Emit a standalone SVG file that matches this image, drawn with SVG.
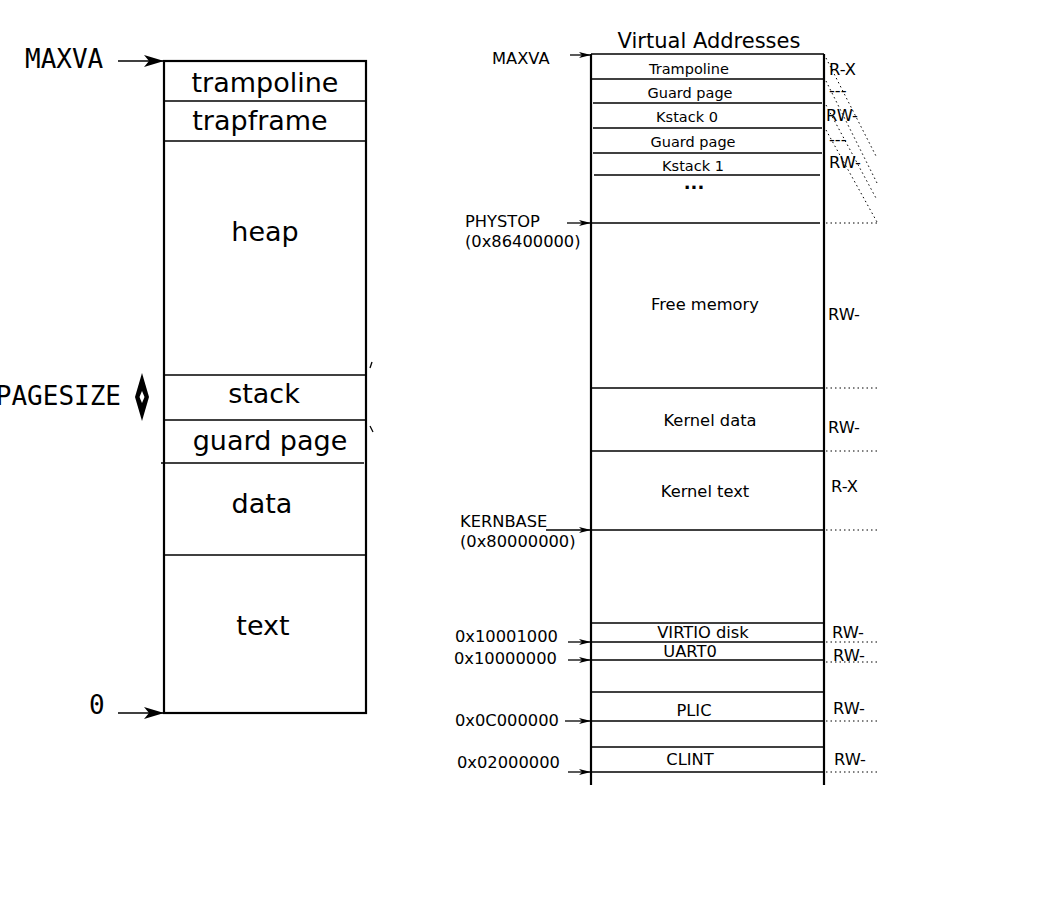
<svg xmlns="http://www.w3.org/2000/svg" width="1042" height="910" viewBox="0 0 1042 910">
<style>
.b{fill:none;stroke:#000;stroke-width:2.2}
.l{stroke:#000;stroke-width:1.3;fill:none}
.d{stroke:#000;stroke-width:1;stroke-dasharray:1.5 3;fill:none}
.t1{font-family:"DejaVu Sans",sans-serif;font-size:27px;text-anchor:middle}
.m{font-family:"DejaVu Sans Mono",monospace;font-size:26px}
.t2{font-family:"DejaVu Sans",sans-serif;font-size:16.3px}
.t3{font-family:"DejaVu Sans",sans-serif;font-size:14.5px;text-anchor:middle}
.c{text-anchor:middle}
</style>
<defs>
<marker id="ab" viewBox="0 0 20 12" refX="20" refY="6" markerWidth="20" markerHeight="12" markerUnits="userSpaceOnUse" orient="auto"><path d="M0,0 L20,6 L0,12 L5,6 Z" fill="#000"/></marker>
<marker id="as" viewBox="0 0 12 6" refX="12" refY="3" markerWidth="12" markerHeight="6" markerUnits="userSpaceOnUse" orient="auto"><path d="M0,0 L12,3 L0,6 L3,3 Z" fill="#000"/></marker>
</defs>
<rect width="1042" height="910" fill="#fff"/>

<g id="user-space">
<rect class="b" x="164" y="61" width="202" height="652"/>
<line class="l" x1="164" y1="101" x2="366" y2="101"/>
<line class="l" x1="164" y1="141" x2="366" y2="141"/>
<line class="l" x1="164" y1="375" x2="366" y2="375"/>
<line class="l" x1="164" y1="420" x2="366" y2="420"/>
<line class="l" x1="161" y1="463" x2="364" y2="463"/>
<line class="l" x1="164" y1="555" x2="366" y2="555"/>
<text class="t1" x="265" y="92">trampoline</text>
<text class="t1" x="260" y="130">trapframe</text>
<text class="t1" x="265" y="241">heap</text>
<text class="t1" x="264" y="403">stack</text>
<text class="t1" x="270" y="450">guard page</text>
<text class="t1" x="262" y="513">data</text>
<text class="t1" x="263" y="635">text</text>
<text class="m" x="25" y="68">MAXVA</text>
<text class="m" x="121" y="405" text-anchor="end">PAGESIZE</text>
<text class="m" x="89" y="714">0</text>
<line class="l" x1="370" y1="368" x2="372" y2="362" stroke-width="0.8"/>
<line class="l" x1="370" y1="426" x2="373" y2="432" stroke-width="0.8"/>
</g>

<g id="connectors">
<line class="l" x1="118" y1="61" x2="164" y2="61" marker-end="url(#ab)"/>
<line class="l" x1="118" y1="713" x2="164" y2="713" marker-end="url(#ab)"/>
<path d="M142,373 L149,397 L142,421 L135,397 Z" fill="#000"/>
<path d="M142,391 L144.5,397 L142,403 L139.5,397 Z" fill="#fff"/>
<line class="l" x1="570" y1="55" x2="591" y2="55" marker-end="url(#as)"/>
<line class="l" x1="567" y1="223" x2="591" y2="223" marker-end="url(#as)"/>
<line class="l" x1="546" y1="530" x2="591" y2="530" marker-end="url(#as)"/>
<line class="l" x1="568" y1="642" x2="591" y2="642" marker-end="url(#as)"/>
<line class="l" x1="568" y1="660" x2="591" y2="660" marker-end="url(#as)"/>
<line class="l" x1="565" y1="721" x2="591" y2="721" marker-end="url(#as)"/>
<line class="l" x1="568" y1="772" x2="591" y2="772" marker-end="url(#as)"/>
</g>

<g id="kernel-space">
<text class="t2 c" x="709" y="48" style="font-size:21px">Virtual Addresses</text>
<line class="b" x1="591" y1="54" x2="591" y2="785"/>
<line class="b" x1="824" y1="54" x2="824" y2="785"/>
<line class="l" x1="591" y1="54" x2="824" y2="54"/>
<line class="l" x1="591" y1="79" x2="824" y2="79"/>
<line class="l" x1="593" y1="103" x2="822" y2="103"/>
<line class="l" x1="593" y1="128" x2="822" y2="128"/>
<line class="l" x1="593" y1="153" x2="822" y2="153"/>
<line class="l" x1="594" y1="175" x2="820" y2="175"/>
<line class="l" x1="591" y1="223" x2="820" y2="223"/>
<line class="l" x1="591" y1="388" x2="824" y2="388"/>
<line class="l" x1="591" y1="451" x2="824" y2="451"/>
<line class="l" x1="591" y1="530" x2="824" y2="530"/>
<line class="l" x1="591" y1="623" x2="824" y2="623"/>
<line class="l" x1="591" y1="642" x2="824" y2="642"/>
<line class="l" x1="591" y1="660" x2="824" y2="660"/>
<line class="l" x1="591" y1="692" x2="824" y2="692"/>
<line class="l" x1="591" y1="721" x2="824" y2="721"/>
<line class="l" x1="591" y1="747" x2="824" y2="747"/>
<line class="l" x1="591" y1="772" x2="824" y2="772"/>

<text class="t3" x="689" y="74">Trampoline</text>
<text class="t3" x="690" y="98">Guard page</text>
<text class="t3" x="687" y="122">Kstack 0</text>
<text class="t3" x="693" y="147">Guard page</text>
<text class="t3" x="693" y="171">Kstack 1</text>
<text class="t2 c" x="694" y="189" style="font-weight:bold;font-size:18px">...</text>
<text class="t2 c" x="705" y="310">Free memory</text>
<text class="t2 c" x="710" y="426">Kernel data</text>
<text class="t2 c" x="705" y="497">Kernel text</text>
<text class="t2 c" x="703" y="638">VIRTIO disk</text>
<text class="t2 c" x="690" y="657">UART0</text>
<text class="t2 c" x="694" y="716">PLIC</text>
<text class="t2 c" x="690" y="765">CLINT</text>

<text class="t2" x="492" y="64">MAXVA</text>
<text class="t2" x="465" y="227">PHYSTOP</text>
<text class="t2" x="465" y="247">(0x86400000)</text>
<text class="t2" x="460" y="527">KERNBASE</text>
<text class="t2" x="460" y="547">(0x80000000)</text>
<text class="t2" x="455" y="642">0x10001000</text>
<text class="t2" x="454" y="664">0x10000000</text>
<text class="t2" x="455" y="726">0x0C000000</text>
<text class="t2" x="457" y="768">0x02000000</text>

<text class="t2" x="829" y="75">R-X</text>
<text class="t2" x="829" y="96">---</text>
<text class="t2" x="826" y="121">RW-</text>
<text class="t2" x="829" y="145">---</text>
<text class="t2" x="829" y="168">RW-</text>
<text class="t2" x="828" y="320">RW-</text>
<text class="t2" x="828" y="433">RW-</text>
<text class="t2" x="831" y="492">R-X</text>
<text class="t2" x="832" y="638">RW-</text>
<text class="t2" x="833" y="661">RW-</text>
<text class="t2" x="833" y="714">RW-</text>
<text class="t2" x="834" y="765">RW-</text>

<line class="d" x1="826" y1="58" x2="877" y2="158"/>
<line class="d" x1="826" y1="81" x2="877" y2="183"/>
<line class="d" x1="826" y1="105" x2="877" y2="200"/>
<line class="d" x1="826" y1="130" x2="877" y2="222"/>
<line class="d" x1="826" y1="223" x2="877" y2="223"/>
<line class="d" x1="826" y1="388" x2="877" y2="388"/>
<line class="d" x1="826" y1="451" x2="877" y2="451"/>
<line class="d" x1="826" y1="530" x2="877" y2="530"/>
<line class="d" x1="826" y1="642" x2="877" y2="642"/>
<line class="d" x1="826" y1="662" x2="877" y2="662"/>
<line class="d" x1="826" y1="721" x2="877" y2="721"/>
<line class="d" x1="826" y1="772" x2="877" y2="772"/>
</g>
</svg>
